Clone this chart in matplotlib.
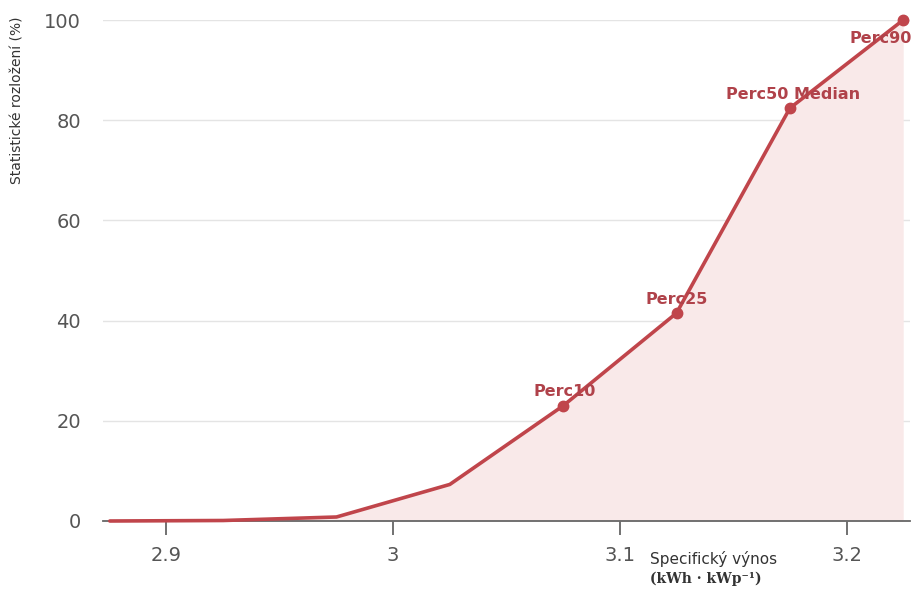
#!/usr/bin/env python3
"""Cumulative distribution of specific yield with percentile markers."""

import matplotlib

matplotlib.use("Agg")
import matplotlib.pyplot as plt

# data
yield_x = [2.875, 2.925, 2.975, 3.025, 3.075, 3.125, 3.175, 3.225]
share_pct = [0.0, 0.1, 0.8, 7.3, 23.0, 41.5, 82.4, 100.0]

perc_names = ["Perc10", "Perc25", "Perc50 Median", "Perc90"]
perc_x = [3.075, 3.125, 3.175, 3.225]
perc_y = [23.0, 41.5, 82.4, 100.0]

x_ticks = [2.9, 3.0, 3.1, 3.2]
x_tick_labels = ["2.9", "3", "3.1", "3.2"]
y_ticks = [0, 20, 40, 60, 80, 100]

LINE = "#c0454b"
LABEL = "#b0424a"
FILL = "#f9e9e9"
GRID = "#e4e4e4"
TEXT = "#555555"

fig = plt.figure(figsize=(9.12, 5.89), dpi=100)
ax = fig.add_axes([103 / 912, 1 - 521 / 589, (910 - 103) / 912, (521 - 20) / 589])

ax.fill_between(yield_x, share_pct, 0, color=FILL, linewidth=0, zorder=1)
ax.plot(yield_x, share_pct, color=LINE, linewidth=2.6, solid_capstyle="round",
        solid_joinstyle="round", zorder=3, clip_on=False)
ax.plot(perc_x, perc_y, "o", color=LINE, markersize=7.5, zorder=4, clip_on=False)

# percentile labels
offsets = [(1, 10), (0, 10), (2, 10), (-16, -13)]
for name, px, py, (dx, dy) in zip(perc_names, perc_x, perc_y, offsets):
    ax.annotate(name, (px, py), xytext=(dx, dy), textcoords="offset points",
                ha="center", va="center", fontsize=11.5, fontweight="bold",
                color=LABEL, zorder=5, annotation_clip=False)

ax.set_xlim(2.872, 3.228)
ax.set_ylim(0, 100)
ax.set_xticks(x_ticks)
ax.set_xticklabels(x_tick_labels)
ax.set_yticks(y_ticks)

ax.grid(True, axis="y", color=GRID, linewidth=1.0)
ax.set_axisbelow(True)
for side in ("top", "right", "left"):
    ax.spines[side].set_visible(False)
ax.spines["bottom"].set_color("#666666")
ax.spines["bottom"].set_linewidth(1.3)
ax.spines["bottom"].set_zorder(2)

ax.tick_params(axis="x", direction="out", length=10, width=1.3, color="#666666",
               labelsize=14, labelcolor=TEXT, pad=8)
ax.tick_params(axis="y", length=0, labelsize=14, labelcolor=TEXT, pad=16)

fig.text(18 / 912, 1 - 100 / 589, "Statistické rozložení (%)", rotation=90,
         ha="center", va="center", fontsize=10, color="#333333")

fig.text(650 / 912, 1 - 559 / 589, "Specifický výnos", ha="left", va="center",
         fontsize=11, color="#333333")
fig.text(650 / 912, 1 - 579 / 589, "(kWh · kWp⁻¹)", ha="left", va="center",
         fontsize=10, fontweight="bold", family="DejaVu Serif", color="#333333")

fig.savefig("out.png", dpi=100)
